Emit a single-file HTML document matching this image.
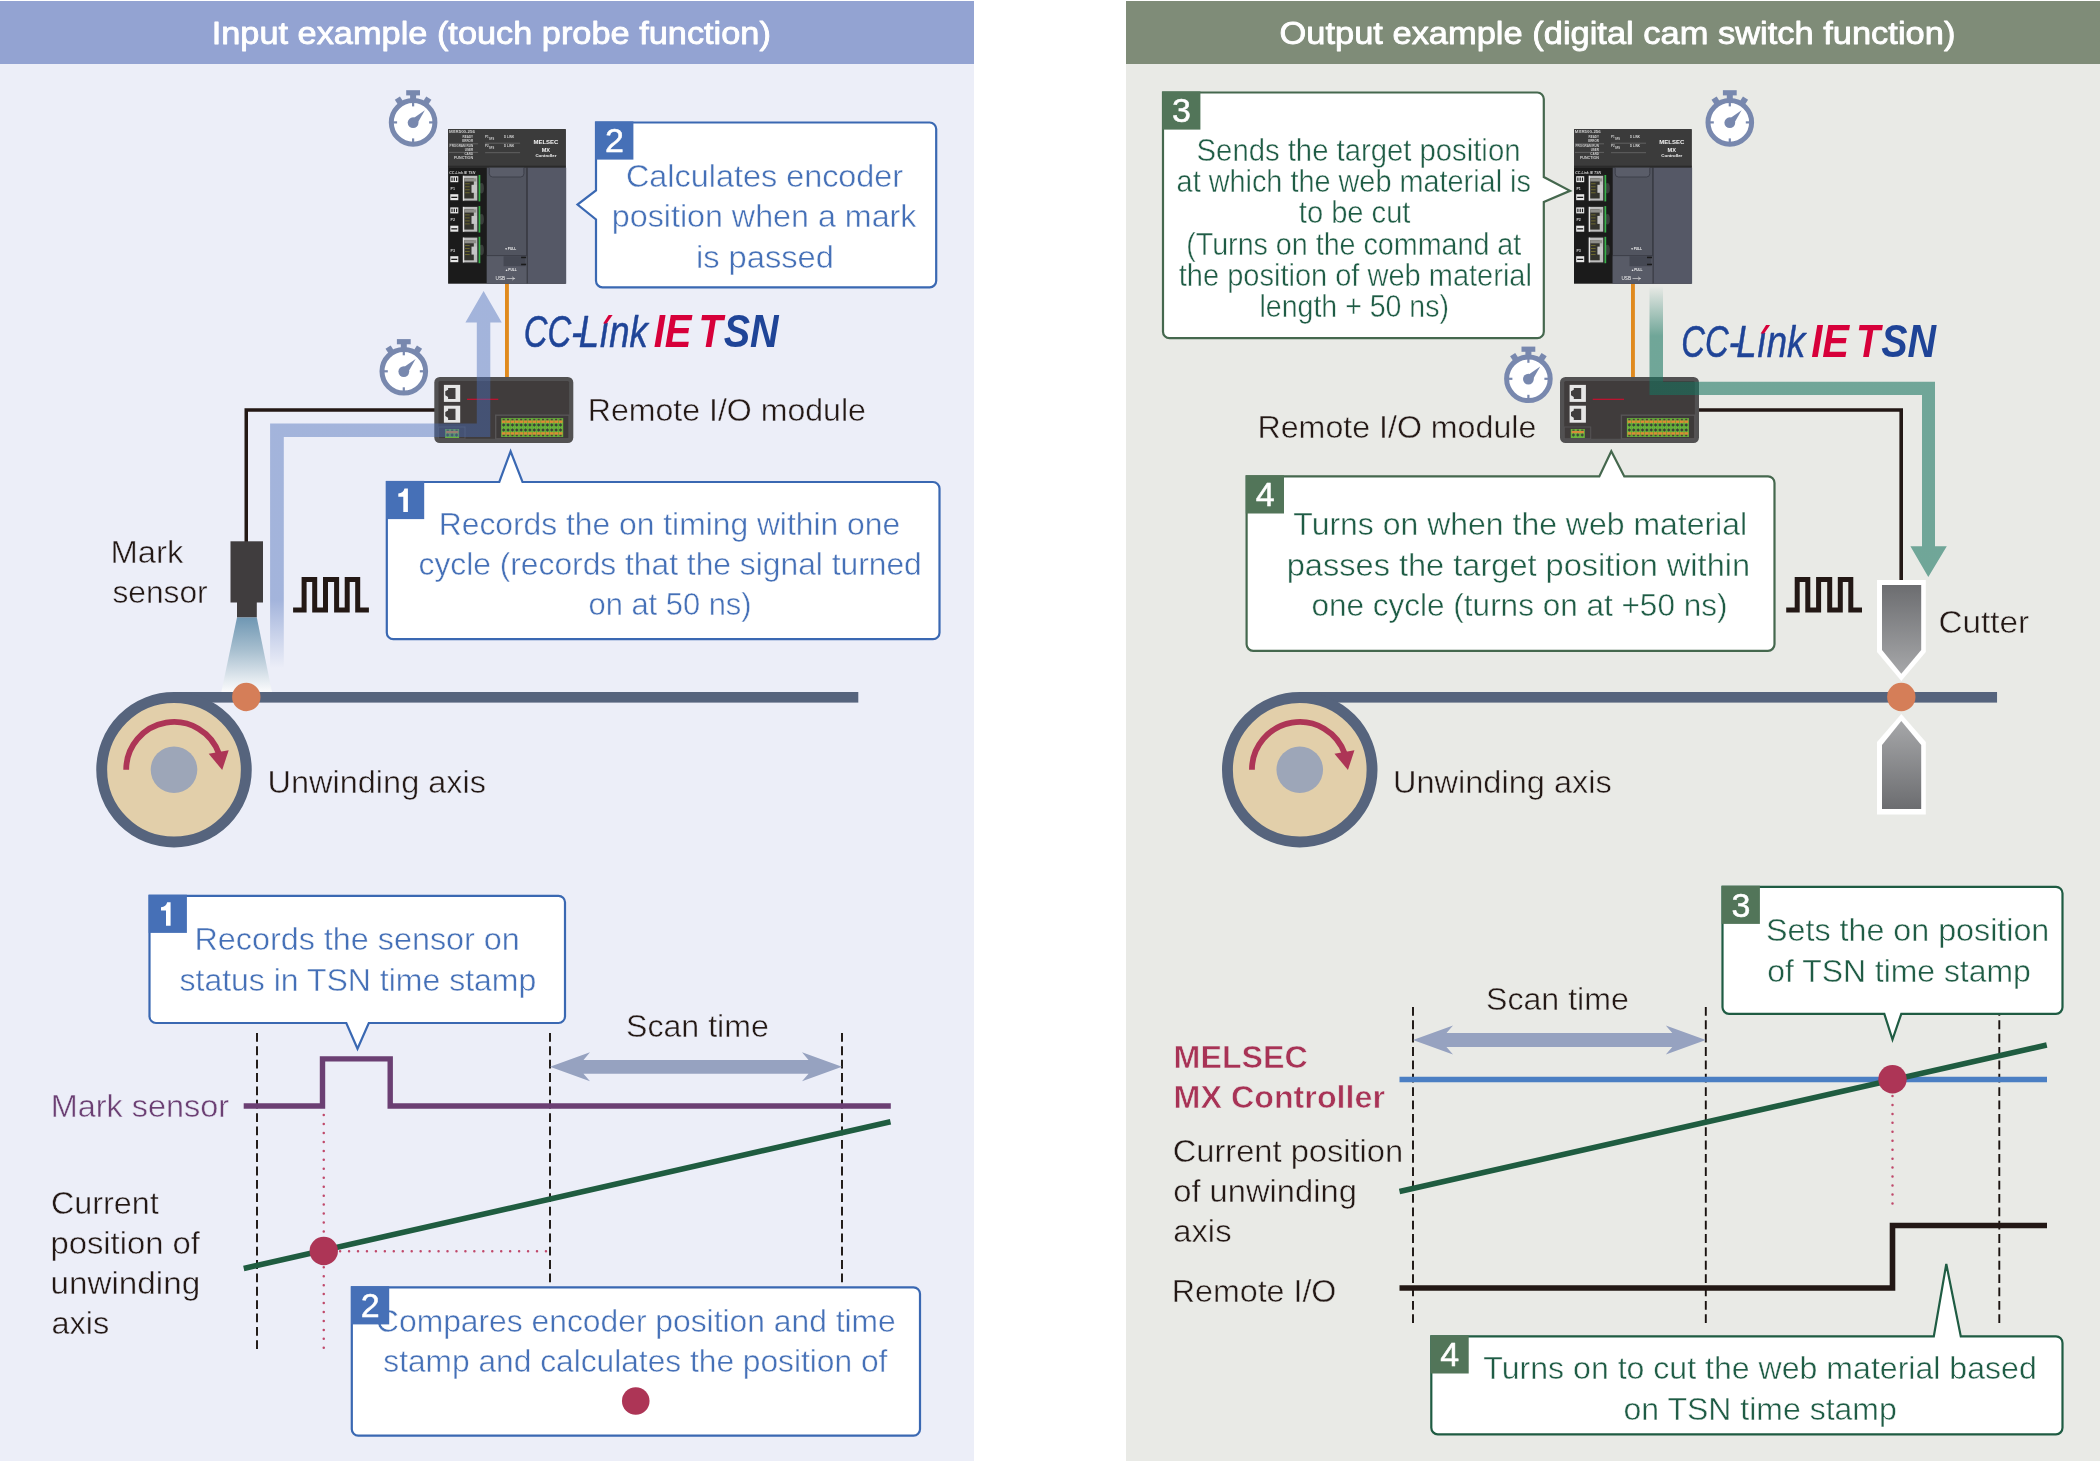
<!DOCTYPE html>
<html><head><meta charset="utf-8"><title>TSN time stamp examples</title>
<style>
html,body{margin:0;padding:0;background:#fff;}
body{width:2100px;height:1461px;overflow:hidden;}
svg{display:block;font-family:"Liberation Sans",sans-serif;will-change:transform;}
</style></head><body>
<svg width="2100" height="1461" viewBox="0 0 2100 1461">
<defs>
<linearGradient id="gBlueFade" gradientUnits="userSpaceOnUse" x1="0" y1="600" x2="0" y2="668">
<stop offset="0" stop-color="#4a6db8" stop-opacity="0.45"/><stop offset="1" stop-color="#4a6db8" stop-opacity="0"/></linearGradient>
<linearGradient id="gTealFade" gradientUnits="userSpaceOnUse" x1="0" y1="286" x2="0" y2="336">
<stop offset="0" stop-color="#17745f" stop-opacity="0"/><stop offset="1" stop-color="#17745f" stop-opacity="0.576"/></linearGradient>
<linearGradient id="gBeam" x1="0" y1="0" x2="0" y2="1">
<stop offset="0" stop-color="#6f97b3"/><stop offset="0.45" stop-color="#a9c0d0"/><stop offset="0.85" stop-color="#e6ecf1"/><stop offset="1" stop-color="#fbfbfc"/></linearGradient>
<linearGradient id="gCutA" x1="0" y1="0" x2="0" y2="1"><stop offset="0" stop-color="#6c6d70"/><stop offset="1" stop-color="#a6a7a9"/></linearGradient>
<linearGradient id="gCutB" x1="0" y1="0" x2="0" y2="1"><stop offset="0" stop-color="#a6a7a9"/><stop offset="1" stop-color="#6c6d70"/></linearGradient>

<g id="sw">
<circle cx="0" cy="0" r="21.8" fill="#fff" stroke="#7888ae" stroke-width="5"/>
<rect x="-6.9" y="-32.2" width="13.8" height="5.2" fill="#7888ae"/>
<rect x="-3" y="-28" width="6" height="6" fill="#7888ae"/>
<rect x="-3.05" y="-28.9" width="6.1" height="6" fill="#7888ae" transform="rotate(-33)"/>
<rect x="-3.05" y="-28.9" width="6.1" height="6" fill="#7888ae" transform="rotate(33)"/>
<rect x="-1.1" y="-20" width="2.2" height="4" fill="#7888ae"/>
<rect x="-1.1" y="16" width="2.2" height="4" fill="#7888ae"/>
<rect x="-20" y="-1.1" width="4" height="2.2" fill="#7888ae"/>
<rect x="16" y="-1.1" width="4" height="2.2" fill="#7888ae"/>
<circle cx="0" cy="0.3" r="5.4" fill="#7888ae"/>
<path d="M-1.5,-3 L11.8,-12.2 L3.6,2.2 Z" fill="#7888ae"/>
</g>

<g id="plc">
<rect x="0" y="0" width="117.6" height="154.5" fill="#1b1b1b"/>
<rect x="0" y="0" width="117.6" height="38.5" fill="#3b3b3b"/>
<rect x="0" y="36.5" width="117.6" height="2" fill="#2a2a2a"/>
<rect x="38.7" y="38.5" width="39.8" height="116" fill="#51545f"/>
<rect x="79.3" y="38.5" width="38.8" height="116" fill="#555866"/>
<rect x="78.3" y="38.5" width="1.2" height="116" fill="#3e404a"/>
<path d="M41.2,38.5 V44.5 Q41.2,47.8 44.5,47.8 H72.5 Q75.8,47.8 75.8,44.5 V38.5" fill="#5a5d69" stroke="#3a3c46" stroke-width="0.9"/>
<rect x="38.7" y="126" width="39.8" height="1" fill="#3a3c46"/>
<rect x="38.7" y="127" width="39.8" height="27.5" fill="#585b67"/>
<rect x="55.5" y="127" width="22" height="10" fill="#454853"/>
<rect x="73" y="127.5" width="5" height="1.5" fill="#1b1b1b"/><rect x="73" y="134.5" width="5" height="1.5" fill="#1b1b1b"/>
<!-- ports -->
<g id="port"><rect x="13.6" y="45.4" width="18.2" height="27.2" fill="#242424"/><ellipse cx="33.4" cy="59" rx="2.4" ry="5.2" fill="#3a3f3c"/><rect x="14.8" y="46.6" width="14.4" height="24.8" fill="#bdbdbd"/><rect x="14.8" y="46.6" width="1.3" height="24.8" fill="#e6e6e6"/><rect x="16.2" y="49.1" width="9.5" height="20.2" fill="#33332c"/><rect x="16.2" y="49.1" width="12" height="3.2" fill="#8f8f8a"/><rect x="17" y="54.2" width="4.6" height="0.8" fill="#77722f"/><rect x="17" y="57.2" width="4.6" height="0.8" fill="#77722f"/><rect x="17" y="60.2" width="4.6" height="0.8" fill="#77722f"/><rect x="17" y="63.2" width="4.6" height="0.8" fill="#77722f"/><rect x="23.4" y="55.6" width="5.5" height="8" fill="#c6c6c6"/><rect x="30.5" y="45.8" width="1.7" height="26.4" fill="#38b24b"/></g>
<use href="#port" y="31.1"/><use href="#port" y="61.8"/>
<!-- small labels -->
<g fill="#e8e8e8"><rect x="2.2" y="47" width="8" height="6"/><rect x="2.2" y="65" width="8" height="6"/><rect x="2.2" y="78.2" width="8" height="6"/><rect x="2.2" y="96.5" width="8" height="6"/><rect x="2.2" y="127" width="8" height="6"/></g>
<g fill="#1b1b1b"><rect x="3.3" y="48.3" width="1.2" height="3.4"/><rect x="5.6" y="48.3" width="1.2" height="3.4"/><rect x="7.9" y="48.3" width="1.2" height="3.4"/><rect x="3.3" y="79.5" width="1.2" height="3.4"/><rect x="5.6" y="79.5" width="1.2" height="3.4"/><rect x="7.9" y="79.5" width="1.2" height="3.4"/><rect x="3.2" y="67.5" width="6" height="1.3"/><rect x="3.2" y="99" width="6" height="1.3"/><rect x="3.2" y="129.5" width="6" height="1.3"/></g>
<g fill="#d8d8d8" font-size="3.6" font-weight="bold"><text x="2.4" y="60.5">P1</text><text x="2.4" y="91.8">P2</text><text x="2.4" y="123">P3</text></g>
<!-- top bar text -->
<g fill="#f2f2f2" font-weight="bold" text-anchor="middle"><text x="97.8" y="14.6" font-size="5.6" textLength="25" lengthAdjust="spacingAndGlyphs">MELSEC</text><text x="97.8" y="22.7" font-size="5.6">MX</text><text x="97.8" y="27.6" font-size="3.6" textLength="21" lengthAdjust="spacingAndGlyphs">Controller</text></g>
<g fill="#cfcfcf" font-size="3" font-weight="bold"><text x="0.8" y="3.9" textLength="26" lengthAdjust="spacingAndGlyphs">MXR500-256</text><text x="25" y="9" text-anchor="end">READY</text><text x="25" y="13" text-anchor="end">ERROR</text><text x="25" y="17.7" text-anchor="end" textLength="23.5" lengthAdjust="spacingAndGlyphs">PROGRAM RUN</text><text x="25" y="22" text-anchor="end">USER</text><text x="25" y="26" text-anchor="end">CARD</text><text x="25" y="30.2" text-anchor="end" textLength="19" lengthAdjust="spacingAndGlyphs">FUNCTION</text>
<text x="37" y="9">P1</text><text x="41" y="11" font-size="2.6">SFS</text><text x="56" y="9">D LINK</text><text x="37" y="17.5">P2</text><text x="41" y="19.5" font-size="2.6">SFS</text><text x="56" y="17.5">D LINK</text>
<text x="1.2" y="44.4" font-size="3" font-style="italic" textLength="26" lengthAdjust="spacingAndGlyphs">CC-Link IE TSN</text>
<text x="56.5" y="121.2" font-size="3.2" fill="#f0f0f0">&#9660;PULL</text><text x="57" y="142.3" font-size="3.2" fill="#f0f0f0">&#9650;PULL</text><text x="47.5" y="151" font-size="5.4" fill="#f4f4f4" font-weight="normal" textLength="9.6" lengthAdjust="spacingAndGlyphs">USB</text></g>
<g stroke="#9a9a9a" stroke-width="0.4"><path d="M1,14.6 H30"/><path d="M1,23.2 H30"/><path d="M37,14 H72"/><path d="M37,23.5 H72"/><path d="M58.5,149.3 H67 M64,147.6 L66.2,149.3 L64,151" stroke="#e8e8e8" stroke-width="0.6" fill="none"/></g>
</g>

<g id="rio"><rect x="0" y="0" width="139" height="66" rx="5.5" fill="#525152"/><rect x="4.2" y="4" width="130.6" height="57.8" rx="1.5" fill="#403c3c"/><rect x="9.6" y="7.9" width="16.3" height="17" fill="#e6e6e6"/><path d="M13.8,10.9 H21.2 V22.1 H13.8 V19.9 L11,18.3 V14.3 L13.8,12.7 Z" fill="#403d3d"/><rect x="9.6" y="28.7" width="16.3" height="17" fill="#e6e6e6"/><path d="M13.8,31.7 H21.2 V42.9 H13.8 V40.7 L11,39.1 V35.1 L13.8,33.5 Z" fill="#403d3d"/><rect x="32.7" y="21.7" width="31.3" height="1.2" fill="#c8102e"/><rect x="4.2" y="50" width="26.5" height="11.8" fill="none" stroke="#555354" stroke-width="1"/><rect x="10.8" y="52" width="14" height="9" fill="#6bb33c"/><rect x="11.6" y="54" width="12.4" height="2.2" fill="#d98a3a"/><rect x="12.2" y="56.8" width="2.4" height="2.4" transform="rotate(45 13.4 58)" fill="#3e4a3a"/><rect x="12.4" y="52.6" width="2.2" height="1.2" fill="#4a4038"/><rect x="16.6" y="56.8" width="2.4" height="2.4" transform="rotate(45 17.8 58)" fill="#3e4a3a"/><rect x="16.8" y="52.6" width="2.2" height="1.2" fill="#4a4038"/><rect x="21.0" y="56.8" width="2.4" height="2.4" transform="rotate(45 22.200000000000003 58)" fill="#3e4a3a"/><rect x="21.200000000000003" y="52.6" width="2.2" height="1.2" fill="#4a4038"/><rect x="61.4" y="38.2" width="73.4" height="23.6" fill="#3d3a3a" stroke="#575556" stroke-width="1.4"/><rect x="66.9" y="41.1" width="62" height="18.9" fill="#6bb33c"/><rect x="67.6" y="43.4" width="60.6" height="2.5" fill="#dd8b35"/><rect x="67.6" y="55.2" width="60.6" height="2.5" fill="#dd8b35"/><rect x="68.35" y="41.8" width="2.1" height="1.5" fill="#4a4038"/><rect x="68.35" y="57.8" width="2.1" height="1.5" fill="#4a4038"/><rect x="68.15" y="46.75" width="2.5" height="2.5" transform="rotate(45 69.40 48)" fill="#3a4038"/><rect x="68.15" y="51.65" width="2.5" height="2.5" transform="rotate(45 69.40 52.9)" fill="#3a4038"/><rect x="71.30" y="41.1" width="0.6" height="18.9" fill="#59a030"/><rect x="72.72" y="41.8" width="2.1" height="1.5" fill="#4a4038"/><rect x="72.72" y="57.8" width="2.1" height="1.5" fill="#4a4038"/><rect x="72.52" y="46.75" width="2.5" height="2.5" transform="rotate(45 73.77 48)" fill="#3a4038"/><rect x="72.52" y="51.65" width="2.5" height="2.5" transform="rotate(45 73.77 52.9)" fill="#3a4038"/><rect x="75.67" y="41.1" width="0.6" height="18.9" fill="#59a030"/><rect x="77.09" y="41.8" width="2.1" height="1.5" fill="#4a4038"/><rect x="77.09" y="57.8" width="2.1" height="1.5" fill="#4a4038"/><rect x="76.89" y="46.75" width="2.5" height="2.5" transform="rotate(45 78.14 48)" fill="#3a4038"/><rect x="76.89" y="51.65" width="2.5" height="2.5" transform="rotate(45 78.14 52.9)" fill="#3a4038"/><rect x="80.04" y="41.1" width="0.6" height="18.9" fill="#59a030"/><rect x="81.46" y="41.8" width="2.1" height="1.5" fill="#4a4038"/><rect x="81.46" y="57.8" width="2.1" height="1.5" fill="#4a4038"/><rect x="81.26" y="46.75" width="2.5" height="2.5" transform="rotate(45 82.51 48)" fill="#3a4038"/><rect x="81.26" y="51.65" width="2.5" height="2.5" transform="rotate(45 82.51 52.9)" fill="#3a4038"/><rect x="84.41" y="41.1" width="0.6" height="18.9" fill="#59a030"/><rect x="85.83" y="41.8" width="2.1" height="1.5" fill="#4a4038"/><rect x="85.83" y="57.8" width="2.1" height="1.5" fill="#4a4038"/><rect x="85.63" y="46.75" width="2.5" height="2.5" transform="rotate(45 86.88 48)" fill="#3a4038"/><rect x="85.63" y="51.65" width="2.5" height="2.5" transform="rotate(45 86.88 52.9)" fill="#3a4038"/><rect x="88.78" y="41.1" width="0.6" height="18.9" fill="#59a030"/><rect x="90.20" y="41.8" width="2.1" height="1.5" fill="#4a4038"/><rect x="90.20" y="57.8" width="2.1" height="1.5" fill="#4a4038"/><rect x="90.00" y="46.75" width="2.5" height="2.5" transform="rotate(45 91.25 48)" fill="#3a4038"/><rect x="90.00" y="51.65" width="2.5" height="2.5" transform="rotate(45 91.25 52.9)" fill="#3a4038"/><rect x="93.15" y="41.1" width="0.6" height="18.9" fill="#59a030"/><rect x="94.57" y="41.8" width="2.1" height="1.5" fill="#4a4038"/><rect x="94.57" y="57.8" width="2.1" height="1.5" fill="#4a4038"/><rect x="94.37" y="46.75" width="2.5" height="2.5" transform="rotate(45 95.62 48)" fill="#3a4038"/><rect x="94.37" y="51.65" width="2.5" height="2.5" transform="rotate(45 95.62 52.9)" fill="#3a4038"/><rect x="97.52" y="41.1" width="0.6" height="18.9" fill="#59a030"/><rect x="98.94" y="41.8" width="2.1" height="1.5" fill="#4a4038"/><rect x="98.94" y="57.8" width="2.1" height="1.5" fill="#4a4038"/><rect x="98.74" y="46.75" width="2.5" height="2.5" transform="rotate(45 99.99 48)" fill="#3a4038"/><rect x="98.74" y="51.65" width="2.5" height="2.5" transform="rotate(45 99.99 52.9)" fill="#3a4038"/><rect x="101.89" y="41.1" width="0.6" height="18.9" fill="#59a030"/><rect x="103.31" y="41.8" width="2.1" height="1.5" fill="#4a4038"/><rect x="103.31" y="57.8" width="2.1" height="1.5" fill="#4a4038"/><rect x="103.11" y="46.75" width="2.5" height="2.5" transform="rotate(45 104.36 48)" fill="#3a4038"/><rect x="103.11" y="51.65" width="2.5" height="2.5" transform="rotate(45 104.36 52.9)" fill="#3a4038"/><rect x="106.26" y="41.1" width="0.6" height="18.9" fill="#59a030"/><rect x="107.68" y="41.8" width="2.1" height="1.5" fill="#4a4038"/><rect x="107.68" y="57.8" width="2.1" height="1.5" fill="#4a4038"/><rect x="107.48" y="46.75" width="2.5" height="2.5" transform="rotate(45 108.73 48)" fill="#3a4038"/><rect x="107.48" y="51.65" width="2.5" height="2.5" transform="rotate(45 108.73 52.9)" fill="#3a4038"/><rect x="110.63" y="41.1" width="0.6" height="18.9" fill="#59a030"/><rect x="112.05" y="41.8" width="2.1" height="1.5" fill="#4a4038"/><rect x="112.05" y="57.8" width="2.1" height="1.5" fill="#4a4038"/><rect x="111.85" y="46.75" width="2.5" height="2.5" transform="rotate(45 113.10 48)" fill="#3a4038"/><rect x="111.85" y="51.65" width="2.5" height="2.5" transform="rotate(45 113.10 52.9)" fill="#3a4038"/><rect x="115.00" y="41.1" width="0.6" height="18.9" fill="#59a030"/><rect x="116.42" y="41.8" width="2.1" height="1.5" fill="#4a4038"/><rect x="116.42" y="57.8" width="2.1" height="1.5" fill="#4a4038"/><rect x="116.22" y="46.75" width="2.5" height="2.5" transform="rotate(45 117.47 48)" fill="#3a4038"/><rect x="116.22" y="51.65" width="2.5" height="2.5" transform="rotate(45 117.47 52.9)" fill="#3a4038"/><rect x="119.37" y="41.1" width="0.6" height="18.9" fill="#59a030"/><rect x="120.79" y="41.8" width="2.1" height="1.5" fill="#4a4038"/><rect x="120.79" y="57.8" width="2.1" height="1.5" fill="#4a4038"/><rect x="120.59" y="46.75" width="2.5" height="2.5" transform="rotate(45 121.84 48)" fill="#3a4038"/><rect x="120.59" y="51.65" width="2.5" height="2.5" transform="rotate(45 121.84 52.9)" fill="#3a4038"/><rect x="123.74" y="41.1" width="0.6" height="18.9" fill="#59a030"/><rect x="125.16" y="41.8" width="2.1" height="1.5" fill="#4a4038"/><rect x="125.16" y="57.8" width="2.1" height="1.5" fill="#4a4038"/><rect x="124.96" y="46.75" width="2.5" height="2.5" transform="rotate(45 126.21 48)" fill="#3a4038"/><rect x="124.96" y="51.65" width="2.5" height="2.5" transform="rotate(45 126.21 52.9)" fill="#3a4038"/></g>
<path id="pulse" d="M293.1,610.1 H304.1 V579.5 H314.7 V610.1 H325.5 V579.5 H336.6 V610.1 H347.2 V579.5 H357.7 V610.1 H368.9" fill="none" stroke="#231815" stroke-width="5" stroke-linejoin="miter"/>
<g id="roll">
<circle cx="0" cy="0" r="72.3" fill="#e2cfaa" stroke="#56647d" stroke-width="10.9"/>
<circle cx="0" cy="0" r="23.3" fill="#9da6b8"/>
<path d="M-47.8,0 A47.8,47.8 0 0 1 45.2,-15.5" fill="none" stroke="#ad3556" stroke-width="5.8"/>
<path d="M54.7,-19.5 L34.7,-16 L48.2,0.2 Z" fill="#ad3556"/>
</g>
</defs>

<rect x="0" y="0" width="2100" height="1461" fill="#fff"/>
<rect x="0" y="1" width="974" height="1460" fill="#eceef8"/>
<rect x="0" y="1" width="974" height="63" fill="#93a3d2"/>
<rect x="1126" y="1" width="974" height="1460" fill="#e9eae6"/>
<rect x="1126" y="1" width="974" height="63" fill="#7f8c78"/>
<text x="211.74" y="43.9" font-size="32" fill="#fff" textLength="559.11" lengthAdjust="spacingAndGlyphs" stroke="#fff" stroke-width="0.85" stroke-linejoin="round">Input example (touch probe function)</text>
<text x="1279.51" y="43.9" font-size="32" fill="#fff" textLength="675.85" lengthAdjust="spacingAndGlyphs" stroke="#fff" stroke-width="0.85" stroke-linejoin="round">Output example (digital cam switch function)</text>
<path d="M435,410 H246.25 V542" fill="none" stroke="#231815" stroke-width="3.5"/>
<rect x="505" y="283" width="3.9" height="95" fill="#e08a1e"/>
<use href="#rio" x="434.3" y="377"/>
<path d="M270.1,668 V423.6 H476.8 V322.4 H465.4 L483.6,291 L501.8,322.4 H490.3 V437.1 H283.8 V668 Z" fill="url(#gBlueFade)"/>
<use href="#plc" x="448.1" y="129.2"/>
<use href="#sw" x="413.1" y="122.4"/>
<use href="#sw" x="403.8" y="371.3"/>
<path d="M602.5,122.5 H929.7 A6.5,6.5 0 0 1 936.2,129.0 V280.8 A6.5,6.5 0 0 1 929.7,287.3 H602.5 A6.5,6.5 0 0 1 596,280.8 V219.5 L577.5,204.5 L596,190.5 V122.5 Z" fill="#fff" stroke="#3a68b2" stroke-width="2.2" stroke-linejoin="miter"/>
<rect x="595.20" y="121.40" width="38.2" height="38.2" fill="#4670b7"/>
<text x="614.5" y="152.4" font-size="34" fill="#fff" text-anchor="middle" stroke="#fff" stroke-width="0.5" stroke-linejoin="round">2</text>
<text x="625.98" y="186.8" font-size="31.5" fill="#4570b7" textLength="277.18" lengthAdjust="spacingAndGlyphs" stroke="#fff" stroke-width="0.45">Calculates encoder</text>
<text x="611.78" y="227" font-size="31.5" fill="#4570b7" textLength="304.71" lengthAdjust="spacingAndGlyphs" stroke="#fff" stroke-width="0.45">position when a mark</text>
<text x="695.96" y="267.5" font-size="31.5" fill="#4570b7" textLength="137.87" lengthAdjust="spacingAndGlyphs" stroke="#fff" stroke-width="0.45">is passed</text>
<text x="523.71" y="346.7" font-size="43.5" fill="#1f4497" textLength="58.41" lengthAdjust="spacingAndGlyphs" font-style="italic" stroke="#1f4497" stroke-width="0.5" stroke-linejoin="round">CC-</text>
<text x="578.68" y="346.7" font-size="43.5" fill="#1f4497" textLength="69.06" lengthAdjust="spacingAndGlyphs" font-style="italic" stroke="#1f4497" stroke-width="0.5" stroke-linejoin="round">L&#305;nk</text>
<path d="M603.2,323.5 L608.6,315.0 H612.6 L606.6,323.5 Z" fill="#d7003a"/>
<text x="653.67" y="346.5" font-size="45.6" fill="#d7003a" textLength="37.88" lengthAdjust="spacingAndGlyphs" font-weight="bold" font-style="italic" stroke="#d7003a" stroke-width="0">IE</text>
<text x="698.53" y="346.5" font-size="45.6" fill="#d7003a" textLength="24.14" lengthAdjust="spacingAndGlyphs" font-weight="bold" font-style="italic" stroke="#d7003a" stroke-width="0">T</text>
<text x="723.70" y="346.5" font-size="45.6" fill="#1f4497" textLength="54.90" lengthAdjust="spacingAndGlyphs" font-weight="bold" font-style="italic" stroke="#1f4497" stroke-width="0">SN</text>
<text x="587.79" y="420.5" font-size="31.5" fill="#231815" textLength="278.11" lengthAdjust="spacingAndGlyphs" stroke="#eceef8" stroke-width="0.45">Remote I/O module</text>
<path d="M393.3,482 H499.3 L510.6,451.3 L522.5,482 H933.0 A6.5,6.5 0 0 1 939.5,488.5 V632.7 A6.5,6.5 0 0 1 933.0,639.2 H393.3 A6.5,6.5 0 0 1 386.8,632.7 V482 Z" fill="#fff" stroke="#3a68b2" stroke-width="2.2" stroke-linejoin="miter"/>
<rect x="386.00" y="480.90" width="38.2" height="38.2" fill="#4670b7"/>
<path transform="translate(386.00,480.90)" d="M21.9,7.6 V31.1 H17.3 V15.8 H12.3 V12.5 C15.8,12.3 17.8,10.8 18.5,7.6 Z" fill="#fff"/>
<text x="438.82" y="535" font-size="31.5" fill="#4570b7" textLength="461.27" lengthAdjust="spacingAndGlyphs" stroke="#fff" stroke-width="0.45">Records the on timing within one</text>
<text x="418.51" y="574.5" font-size="31.5" fill="#4570b7" textLength="503.28" lengthAdjust="spacingAndGlyphs" stroke="#fff" stroke-width="0.45">cycle (records that the signal turned</text>
<text x="588.54" y="614.5" font-size="31.5" fill="#4570b7" textLength="163.06" lengthAdjust="spacingAndGlyphs" stroke="#fff" stroke-width="0.45">on at 50 ns)</text>
<text x="110.44" y="562.5" font-size="31.5" fill="#231815" textLength="72.85" lengthAdjust="spacingAndGlyphs" stroke="#eceef8" stroke-width="0.45">Mark</text>
<text x="112.50" y="602.5" font-size="31.5" fill="#231815" textLength="95.15" lengthAdjust="spacingAndGlyphs" stroke="#eceef8" stroke-width="0.45">sensor</text>
<rect x="230.5" y="541.3" width="32.5" height="61.2" fill="#403d3e"/>
<rect x="237" y="602" width="19.8" height="15.5" fill="#403d3e"/>
<path d="M237,617.5 H256.8 L272,692 H221.3 Z" fill="url(#gBeam)"/>
<use href="#pulse"/>
<rect x="174" y="692" width="684.3" height="10.6" fill="#56647d"/>
<use href="#roll" x="174" y="769.75"/>
<circle cx="246.3" cy="697" r="14.2" fill="#d57e58"/>
<text x="267.47" y="792.5" font-size="31.5" fill="#231815" textLength="218.55" lengthAdjust="spacingAndGlyphs" stroke="#eceef8" stroke-width="0.45">Unwinding axis</text>
<path d="M156.0,895.8 H558.5 A6.5,6.5 0 0 1 565,902.3 V1016.5 A6.5,6.5 0 0 1 558.5,1023 H368.8 L357.5,1048.8 L346.3,1023 H156.0 A6.5,6.5 0 0 1 149.5,1016.5 V895.8 Z" fill="#fff" stroke="#3a68b2" stroke-width="2.2" stroke-linejoin="miter"/>
<rect x="148.70" y="894.70" width="38.2" height="38.2" fill="#4670b7"/>
<path transform="translate(148.70,894.70)" d="M21.9,7.6 V31.1 H17.3 V15.8 H12.3 V12.5 C15.8,12.3 17.8,10.8 18.5,7.6 Z" fill="#fff"/>
<text x="194.47" y="949.5" font-size="31.5" fill="#4570b7" textLength="325.34" lengthAdjust="spacingAndGlyphs" stroke="#fff" stroke-width="0.45">Records the sensor on</text>
<text x="179.50" y="990.5" font-size="31.5" fill="#4570b7" textLength="356.79" lengthAdjust="spacingAndGlyphs" stroke="#fff" stroke-width="0.45">status in TSN time stamp</text>
<text x="626.00" y="1037" font-size="31.5" fill="#231815" textLength="142.81" lengthAdjust="spacingAndGlyphs" stroke="#eceef8" stroke-width="0.45">Scan time</text>
<path d="M257,1033 V1349" stroke="#1a1310" stroke-width="1.9" stroke-dasharray="8.8 4.56" fill="none"/>
<path d="M550,1033 V1283" stroke="#1a1310" stroke-width="1.9" stroke-dasharray="8.8 4.56" fill="none"/>
<path d="M842,1033 V1283" stroke="#1a1310" stroke-width="1.9" stroke-dasharray="8.8 4.56" fill="none"/>
<path d="M550,1066.8 L590,1052.3 L583.5,1059.8999999999999 H808.5 L802,1052.3 L842,1066.8 L802,1081.3 L808.5,1073.7 H583.5 L590,1081.3 Z" fill="#96a2c0"/>
<text x="50.67" y="1116.5" font-size="31.5" fill="#6b3f73" textLength="178.29" lengthAdjust="spacingAndGlyphs" stroke="#eceef8" stroke-width="0.45">Mark sensor</text>
<path d="M243.7,1106 H322.5 V1058.9 H390.2 V1106 H890.8" fill="none" stroke="#6b3f73" stroke-width="5.4"/>
<path d="M243.75,1268.5 L890.5,1121.75" stroke="#1f5c40" stroke-width="5.6" fill="none"/>
<path d="M323.75,1115.1 V1349" stroke="#c0486a" stroke-width="2.5" stroke-linecap="round" stroke-dasharray="0 8.95" fill="none"/>
<path d="M340.1,1251.2 H551" stroke="#c0486a" stroke-width="2.5" stroke-linecap="round" stroke-dasharray="0 8.95" fill="none"/>
<circle cx="323.75" cy="1251" r="14.2" fill="#ad3556"/>
<text x="50.99" y="1213.5" font-size="31.5" fill="#231815" textLength="107.70" lengthAdjust="spacingAndGlyphs" stroke="#eceef8" stroke-width="0.45">Current</text>
<text x="50.45" y="1253.5" font-size="31.5" fill="#231815" textLength="149.44" lengthAdjust="spacingAndGlyphs" stroke="#eceef8" stroke-width="0.45">position of</text>
<text x="50.42" y="1293.5" font-size="31.5" fill="#231815" textLength="149.75" lengthAdjust="spacingAndGlyphs" stroke="#eceef8" stroke-width="0.45">unwinding</text>
<text x="51.48" y="1333.5" font-size="31.5" fill="#231815" textLength="57.83" lengthAdjust="spacingAndGlyphs" stroke="#eceef8" stroke-width="0.45">axis</text>
<path d="M358.3,1287.3 H913.5 A6.5,6.5 0 0 1 920,1293.8 V1429.2 A6.5,6.5 0 0 1 913.5,1435.7 H358.3 A6.5,6.5 0 0 1 351.8,1429.2 V1287.3 Z" fill="#fff" stroke="#3a68b2" stroke-width="2.2" stroke-linejoin="miter"/>
<text x="376.01" y="1332.3" font-size="31.5" fill="#4570b7" textLength="519.78" lengthAdjust="spacingAndGlyphs" stroke="#fff" stroke-width="0.45">Compares encoder position and time</text>
<rect x="351.00" y="1286.20" width="38.2" height="38.2" fill="#4670b7"/>
<text x="370.3" y="1317.2" font-size="34" fill="#fff" text-anchor="middle" stroke="#fff" stroke-width="0.5" stroke-linejoin="round">2</text>
<text x="383.30" y="1372.3" font-size="31.5" fill="#4570b7" textLength="504.09" lengthAdjust="spacingAndGlyphs" stroke="#fff" stroke-width="0.45">stamp and calculates the position of</text>
<circle cx="635.75" cy="1401" r="13.8" fill="#ad3556"/>
<path d="M1699,410 H1901.2 V581" fill="none" stroke="#231815" stroke-width="3.6"/>
<rect x="1631" y="283" width="3.9" height="95" fill="#e08a1e"/>
<use href="#rio" x="1560" y="377"/>
<path d="M1649.5,284 H1663 V381.8 H1935 V546.3 H1946.8 L1928.3,577 L1910.4,546.3 H1922 V395 H1649.5 Z" fill="url(#gTealFade)"/>
<use href="#plc" x="1574" y="129.2"/>
<use href="#sw" x="1729.8" y="122.4"/>
<use href="#sw" x="1528.4" y="378.8"/>
<path d="M1169.5,92.5 H1537.3 A6.5,6.5 0 0 1 1543.8,99.0 V177 L1570,190.8 L1543.8,202 V331.7 A6.5,6.5 0 0 1 1537.3,338.2 H1169.5 A6.5,6.5 0 0 1 1163,331.7 V92.5 Z" fill="#fff" stroke="#45684e" stroke-width="2.2" stroke-linejoin="miter"/>
<rect x="1162.20" y="91.40" width="38.2" height="38.2" fill="#527559"/>
<text x="1181.5" y="122.4" font-size="34" fill="#fff" text-anchor="middle" stroke="#fff" stroke-width="0.5" stroke-linejoin="round">3</text>
<text x="1196.59" y="161.1" font-size="31.5" fill="#1f5c45" textLength="323.86" lengthAdjust="spacingAndGlyphs" stroke="#fff" stroke-width="0.45">Sends the target position</text>
<text x="1176.60" y="192.4" font-size="31.5" fill="#1f5c45" textLength="354.30" lengthAdjust="spacingAndGlyphs" stroke="#fff" stroke-width="0.45">at which the web material is</text>
<text x="1298.80" y="223.4" font-size="31.5" fill="#1f5c45" textLength="111.60" lengthAdjust="spacingAndGlyphs" stroke="#fff" stroke-width="0.45">to be cut</text>
<text x="1186.16" y="254.9" font-size="31.5" fill="#1f5c45" textLength="335.05" lengthAdjust="spacingAndGlyphs" stroke="#fff" stroke-width="0.45">(Turns on the command at</text>
<text x="1178.80" y="286.1" font-size="31.5" fill="#1f5c45" textLength="353.11" lengthAdjust="spacingAndGlyphs" stroke="#fff" stroke-width="0.45">the position of web material</text>
<text x="1259.52" y="317.4" font-size="31.5" fill="#1f5c45" textLength="189.46" lengthAdjust="spacingAndGlyphs" stroke="#fff" stroke-width="0.45">length + 50 ns)</text>
<text x="1681.21" y="356.7" font-size="43.5" fill="#1f4497" textLength="58.41" lengthAdjust="spacingAndGlyphs" font-style="italic" stroke="#1f4497" stroke-width="0.5" stroke-linejoin="round">CC-</text>
<text x="1736.18" y="356.7" font-size="43.5" fill="#1f4497" textLength="69.06" lengthAdjust="spacingAndGlyphs" font-style="italic" stroke="#1f4497" stroke-width="0.5" stroke-linejoin="round">L&#305;nk</text>
<path d="M1760.7,333.5 L1766.1,325.0 H1770.1 L1764.1,333.5 Z" fill="#d7003a"/>
<text x="1811.17" y="356.5" font-size="45.6" fill="#d7003a" textLength="37.88" lengthAdjust="spacingAndGlyphs" font-weight="bold" font-style="italic" stroke="#d7003a" stroke-width="0">IE</text>
<text x="1856.03" y="356.5" font-size="45.6" fill="#d7003a" textLength="24.14" lengthAdjust="spacingAndGlyphs" font-weight="bold" font-style="italic" stroke="#d7003a" stroke-width="0">T</text>
<text x="1881.20" y="356.5" font-size="45.6" fill="#1f4497" textLength="54.90" lengthAdjust="spacingAndGlyphs" font-weight="bold" font-style="italic" stroke="#1f4497" stroke-width="0">SN</text>
<text x="1257.49" y="437.5" font-size="31.5" fill="#231815" textLength="278.82" lengthAdjust="spacingAndGlyphs" stroke="#e9eae6" stroke-width="0.45">Remote I/O module</text>
<path d="M1253.1,476.4 H1599.3 L1611.3,451.3 L1624.3,476.4 H1768.0 A6.5,6.5 0 0 1 1774.5,482.9 V644.3 A6.5,6.5 0 0 1 1768.0,650.8 H1253.1 A6.5,6.5 0 0 1 1246.6,644.3 V476.4 Z" fill="#fff" stroke="#45684e" stroke-width="2.2" stroke-linejoin="miter"/>
<rect x="1245.80" y="475.30" width="38.2" height="38.2" fill="#527559"/>
<text x="1265.1" y="506.29999999999995" font-size="34" fill="#fff" text-anchor="middle" stroke="#fff" stroke-width="0.5" stroke-linejoin="round">4</text>
<text x="1293.30" y="535.2" font-size="31.5" fill="#1f5c45" textLength="453.81" lengthAdjust="spacingAndGlyphs" stroke="#fff" stroke-width="0.45">Turns on when the web material</text>
<text x="1286.76" y="575.5" font-size="31.5" fill="#1f5c45" textLength="463.36" lengthAdjust="spacingAndGlyphs" stroke="#fff" stroke-width="0.45">passes the target position within</text>
<text x="1311.52" y="615.8" font-size="31.5" fill="#1f5c45" textLength="415.92" lengthAdjust="spacingAndGlyphs" stroke="#fff" stroke-width="0.45">one cycle (turns on at +50 ns)</text>
<use href="#pulse" x="1493.1"/>
<rect x="1299.75" y="692" width="697.3" height="10.6" fill="#56647d"/>
<use href="#roll" x="1299.75" y="769.75"/>
<text x="1392.97" y="792.5" font-size="31.5" fill="#231815" textLength="218.75" lengthAdjust="spacingAndGlyphs" stroke="#e9eae6" stroke-width="0.45">Unwinding axis</text>
<path d="M1877,580 H1925.8 V652 L1901.3,681 L1877,652 Z" fill="#fff"/>
<path d="M1882,585 H1921.2 V650 L1901.3,673.8 L1882,650 Z" fill="url(#gCutA)"/>
<path d="M1877,814.5 H1925.8 V742 L1901.3,714 L1877,742 Z" fill="#fff"/>
<path d="M1882,809 H1921.2 V745 L1901.3,721 L1882,745 Z" fill="url(#gCutB)"/>
<circle cx="1901.3" cy="697" r="14.2" fill="#d57e58"/>
<text x="1938.44" y="633" font-size="31.5" fill="#231815" textLength="90.52" lengthAdjust="spacingAndGlyphs" stroke="#e9eae6" stroke-width="0.45">Cutter</text>
<path d="M1413,1007 V1323" stroke="#1a1310" stroke-width="1.9" stroke-dasharray="8.8 4.56" fill="none"/>
<path d="M1705.8,1007 V1323" stroke="#1a1310" stroke-width="1.9" stroke-dasharray="8.8 4.56" fill="none"/>
<path d="M1999.3,1007 V1323" stroke="#1a1310" stroke-width="1.9" stroke-dasharray="8.8 4.56" fill="none"/>
<text x="1486.00" y="1010" font-size="31.5" fill="#231815" textLength="142.81" lengthAdjust="spacingAndGlyphs" stroke="#e9eae6" stroke-width="0.45">Scan time</text>
<path d="M1413,1040 L1453,1025.5 L1446.5,1033.1 H1672.3 L1665.8,1025.5 L1705.8,1040 L1665.8,1054.5 L1672.3,1046.9 H1446.5 L1453,1054.5 Z" fill="#96a2c0"/>
<text x="1173.59" y="1067.5" font-size="31.5" fill="#a83356" textLength="134.33" lengthAdjust="spacingAndGlyphs" font-weight="bold" stroke="#e9eae6" stroke-width="0.6">MELSEC</text>
<text x="1173.58" y="1108" font-size="31.5" fill="#a83356" textLength="211.47" lengthAdjust="spacingAndGlyphs" font-weight="bold" stroke="#e9eae6" stroke-width="0.6">MX Controller</text>
<path d="M1399.5,1079.5 H2047" stroke="#4b7fc3" stroke-width="5.5" fill="none"/>
<path d="M1399.5,1191.5 L2046.75,1045" stroke="#1f5c40" stroke-width="5.6" fill="none"/>
<path d="M1892.5,1096 V1212" stroke="#c0486a" stroke-width="2.5" stroke-linecap="round" stroke-dasharray="0 8.95" fill="none"/>
<circle cx="1892.5" cy="1079.3" r="14.2" fill="#ad3556"/>
<text x="1172.77" y="1161.5" font-size="31.5" fill="#231815" textLength="230.36" lengthAdjust="spacingAndGlyphs" stroke="#e9eae6" stroke-width="0.45">Current position</text>
<text x="1173.28" y="1201.5" font-size="31.5" fill="#231815" textLength="183.56" lengthAdjust="spacingAndGlyphs" stroke="#e9eae6" stroke-width="0.45">of unwinding</text>
<text x="1173.28" y="1241.5" font-size="31.5" fill="#231815" textLength="58.25" lengthAdjust="spacingAndGlyphs" stroke="#e9eae6" stroke-width="0.45">axis</text>
<text x="1171.78" y="1301.5" font-size="31.5" fill="#231815" textLength="164.61" lengthAdjust="spacingAndGlyphs" stroke="#e9eae6" stroke-width="0.45">Remote I/O</text>
<path d="M1399.5,1288 H1892.5 V1225.5 H2047" fill="none" stroke="#231815" stroke-width="5.6"/>
<path d="M1729.0,886.8 H2056.0 A6.5,6.5 0 0 1 2062.5,893.3 V1007.3 A6.5,6.5 0 0 1 2056.0,1013.8 H1901.3 L1892.5,1039.5 L1884.3,1013.8 H1729.0 A6.5,6.5 0 0 1 1722.5,1007.3 V886.8 Z" fill="#fff" stroke="#1f5c43" stroke-width="2.2" stroke-linejoin="miter"/>
<rect x="1721.70" y="885.70" width="38.2" height="38.2" fill="#527559"/>
<text x="1741.0" y="916.6999999999999" font-size="34" fill="#fff" text-anchor="middle" stroke="#fff" stroke-width="0.5" stroke-linejoin="round">3</text>
<text x="1765.99" y="941.1" font-size="31.5" fill="#1f5c45" textLength="283.32" lengthAdjust="spacingAndGlyphs" stroke="#fff" stroke-width="0.45">Sets the on position</text>
<text x="1767.31" y="982.1" font-size="31.5" fill="#1f5c45" textLength="263.48" lengthAdjust="spacingAndGlyphs" stroke="#fff" stroke-width="0.45">of TSN time stamp</text>
<path d="M1437.8,1336.4 H1933.8 L1946.3,1264 L1960.8,1336.4 H2056.0 A6.5,6.5 0 0 1 2062.5,1342.9 V1427.8 A6.5,6.5 0 0 1 2056.0,1434.3 H1437.8 A6.5,6.5 0 0 1 1431.3,1427.8 V1336.4 Z" fill="#fff" stroke="#1f5c43" stroke-width="2.2" stroke-linejoin="miter"/>
<rect x="1430.50" y="1335.30" width="38.2" height="38.2" fill="#527559"/>
<text x="1449.8" y="1366.3000000000002" font-size="34" fill="#fff" text-anchor="middle" stroke="#fff" stroke-width="0.5" stroke-linejoin="round">4</text>
<text x="1483.30" y="1378.5" font-size="31.5" fill="#1f5c45" textLength="553.50" lengthAdjust="spacingAndGlyphs" stroke="#fff" stroke-width="0.45">Turns on to cut the web material based</text>
<text x="1623.50" y="1419.8" font-size="31.5" fill="#1f5c45" textLength="273.29" lengthAdjust="spacingAndGlyphs" stroke="#fff" stroke-width="0.45">on TSN time stamp</text>
</svg></body></html>
